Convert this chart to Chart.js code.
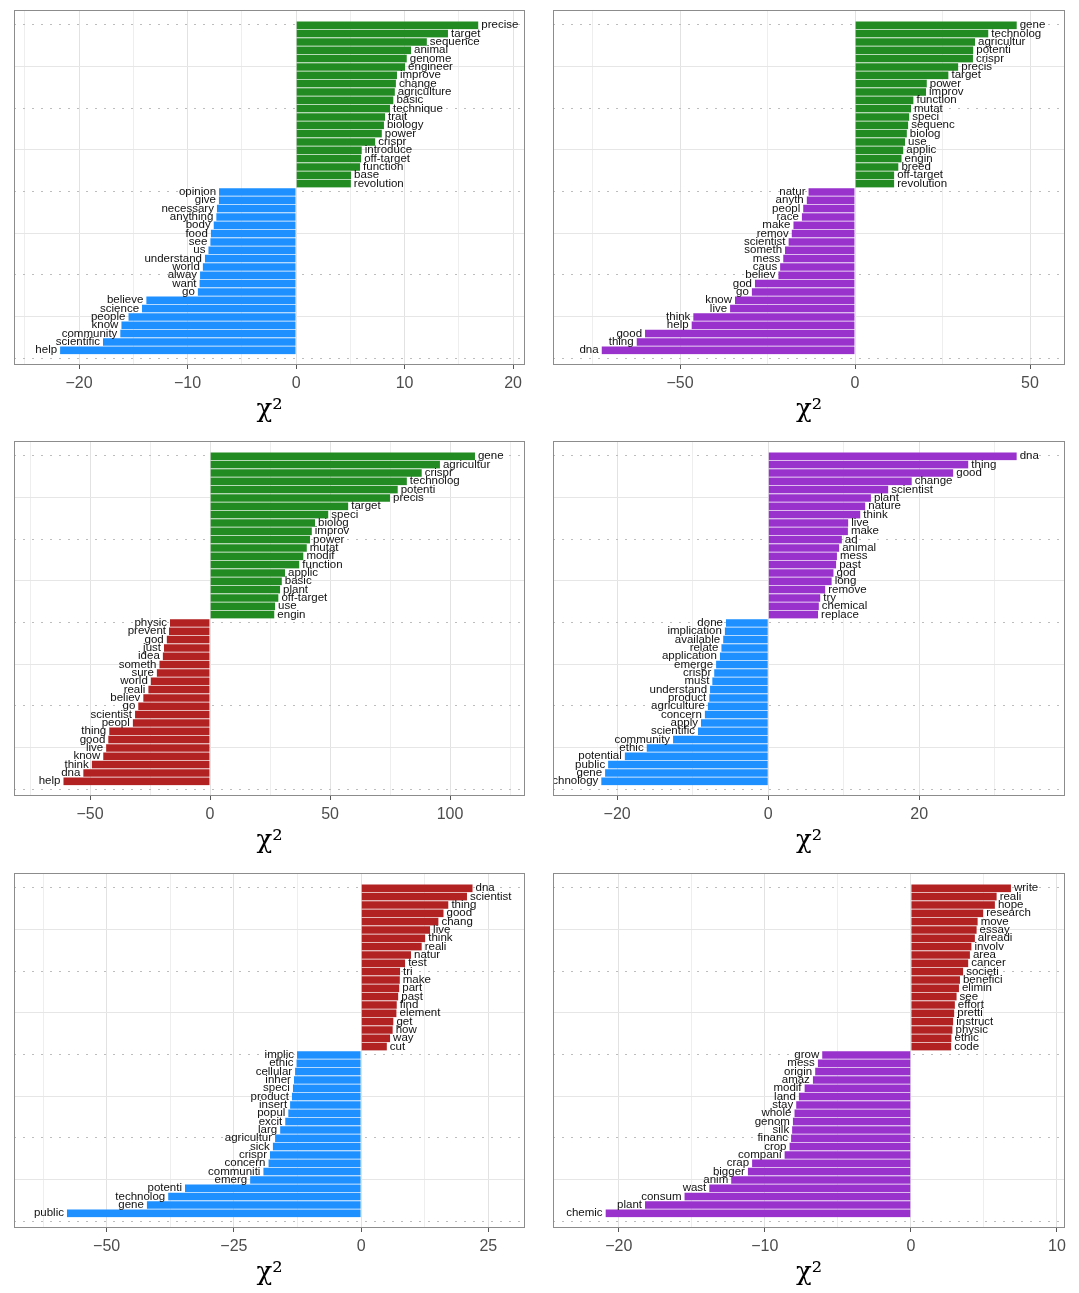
<!DOCTYPE html>
<html>
<head>
<meta charset="utf-8">
<title>Chi-square keyness panels</title>
<script src="https://cdn.jsdelivr.net/npm/chart.js@4.4.1/dist/chart.umd.min.js"></script>
<style>
  html, body { margin: 0; padding: 0; background: #fff; }
  body { width: 1079px; height: 1293px; position: relative; overflow: hidden; }
  .panel { position: absolute; height: 431px; }
</style>
</head>
<body>
<div class="panel" style="left:0;top:0;width:539px"><canvas id="c1"></canvas></div>
<div class="panel" style="left:539px;top:0;width:540px"><canvas id="c2"></canvas></div>
<div class="panel" style="left:0;top:431px;width:539px"><canvas id="c3"></canvas></div>
<div class="panel" style="left:539px;top:431px;width:540px"><canvas id="c4"></canvas></div>
<div class="panel" style="left:0;top:863px;width:539px"><canvas id="c5"></canvas></div>
<div class="panel" style="left:539px;top:863px;width:540px"><canvas id="c6"></canvas></div>
<script>
// terms top -> bottom (20 positive, then 20 negative) and their chi2 values
const p1Words = ["precise", "target", "sequence", "animal", "genome", "engineer", "improve", "change", "agriculture", "basic",
    "technique", "trait", "biology", "power", "crispr", "introduce", "off-target", "function", "base", "revolution",
    "opinion", "give", "necessary", "anything", "body", "food", "see", "us", "understand", "world",
    "alway", "want", "go", "believe", "science", "people", "know", "community", "scientific", "help"];
const p1Chi2 = [16.8, 14.0, 12.05, 10.6, 10.2, 10.05, 9.3, 9.2, 9.1, 8.97,
    8.66, 8.2, 8.1, 7.9, 7.3, 6.05, 6.0, 5.9, 5.07, 5.05,
    -7.1, -7.12, -7.3, -7.35, -7.6, -7.86, -7.9, -8.08, -8.4, -8.6,
    -8.85, -8.9, -9.06, -13.8, -14.2, -15.45, -16.1, -16.2, -17.8, -21.75];
const p1Range = [-26.0, 21.1];
const p1Major = 10;

const p2Words = ["gene", "technolog", "agricultur", "potenti", "crispr", "precis", "target", "power", "improv", "function",
    "mutat", "speci", "sequenc", "biolog", "use", "applic", "engin", "breed", "off-target", "revolution",
    "natur", "anyth", "peopl", "race", "make", "remov", "scientist", "someth", "mess", "caus",
    "believ", "god", "go", "know", "live", "think", "help", "good", "thing", "dna"];
const p2Chi2 = [46.2, 38.1, 34.3, 33.8, 33.7, 29.5, 26.7, 20.5, 20.3, 16.7,
    16.0, 15.5, 15.2, 14.8, 14.3, 13.8, 13.3, 12.4, 11.2, 11.2,
    -13.3, -13.8, -14.8, -15.2, -17.6, -18.1, -19.0, -20.0, -20.5, -21.4,
    -21.9, -28.6, -29.5, -34.3, -35.7, -46.2, -46.7, -60.0, -62.4, -72.4];
const p2Range = [-86.3, 60.0];
const p2Major = 50;

const p3Words = ["gene", "agricultur", "crispr", "technolog", "potenti", "precis", "target", "speci", "biolog", "improv",
    "power", "mutat", "modif", "function", "applic", "basic", "plant", "off-target", "use", "engin",
    "physic", "prevent", "god", "just", "idea", "someth", "sure", "world", "reali", "believ",
    "go", "scientist", "peopl", "thing", "good", "live", "know", "think", "dna", "help"];
const p3Chi2 = [110.4, 95.8, 88.2, 82.0, 78.2, 75.0, 57.6, 49.3, 43.75, 42.4,
    41.7, 40.3, 38.9, 37.2, 31.25, 29.9, 29.2, 28.5, 27.1, 26.8,
    -16.7, -17.1, -18.05, -19.2, -19.7, -21.1, -22.2, -24.7, -25.7, -27.8,
    -29.9, -31.25, -32.2, -42.0, -42.4, -43.3, -44.5, -49.3, -52.8, -61.1];
const p3Range = [-81.7, 131.25];
const p3Major = 50;

const p4Words = ["dna", "thing", "good", "change", "scientist", "plant", "nature", "think", "live", "make",
    "ad", "animal", "mess", "past", "god", "long", "remove", "try", "chemical", "replace",
    "done", "implication", "available", "relate", "application", "emerge", "crispr", "must", "understand", "product",
    "agriculture", "concern", "apply", "scientific", "community", "ethic", "potential", "public", "gene", "technology"];
const p4Chi2 = [32.9, 26.5, 24.5, 19.0, 15.9, 13.6, 12.85, 12.2, 10.6, 10.55,
    9.75, 9.4, 9.1, 9.0, 8.65, 8.4, 7.55, 6.9, 6.7, 6.6,
    -5.6, -5.75, -5.96, -6.2, -6.4, -6.9, -7.15, -7.4, -7.7, -7.8,
    -8.0, -8.4, -8.9, -9.3, -12.6, -16.1, -19.0, -21.2, -21.6, -22.1];
const p4Range = [-28.5, 39.3];
const p4Major = 20;

const p5Words = ["dna", "scientist", "thing", "good", "chang", "live", "think", "reali", "natur", "test",
    "tri", "make", "part", "past", "find", "element", "get", "how", "way", "cut",
    "implic", "ethic", "cellular", "inher", "speci", "product", "insert", "popul", "excit", "larg",
    "agricultur", "sick", "crispr", "concern", "communiti", "emerg", "potenti", "technolog", "gene", "public"];
const p5Chi2 = [21.9, 20.8, 17.15, 16.2, 15.2, 13.55, 12.6, 11.9, 9.8, 8.65,
    7.66, 7.6, 7.5, 7.3, 7.0, 6.95, 6.35, 6.2, 5.7, 5.05,
    -12.6, -12.7, -12.97, -13.2, -13.4, -13.6, -13.95, -14.3, -14.9, -15.9,
    -16.9, -17.35, -17.9, -18.2, -19.2, -21.8, -34.6, -37.9, -42.1, -57.8];
const p5Range = [-68.2, 32.2];
const p5Major = 25;

const p6Words = ["write", "reali", "hope", "research", "move", "essay", "alreadi", "involv", "area", "cancer",
    "societi", "benefici", "elimin", "see", "effort", "pretti", "instruct", "physic", "ethic", "code",
    "grow", "mess", "origin", "amaz", "modif", "land", "stay", "whole", "genom", "silk",
    "financ", "crop", "compani", "crap", "bigger", "anim", "wast", "consum", "plant", "chemic"];
const p6Chi2 = [6.85, 5.87, 5.75, 4.95, 4.57, 4.5, 4.38, 4.15, 4.04, 3.93,
    3.58, 3.36, 3.29, 3.13, 3.01, 2.97, 2.9, 2.85, 2.78, 2.76,
    -6.07, -6.37, -6.55, -6.71, -7.28, -7.67, -7.85, -7.97, -8.08, -8.13,
    -8.2, -8.31, -8.65, -10.87, -11.16, -12.3, -13.8, -15.5, -18.2, -20.9];
const p6Range = [-24.5, 10.55];
const p6Major = 10;

const GREEN = "#228b22", BLUE = "#1e90ff", PURPLE = "#9932cc", RED = "#b22222";

Chart.defaults.font.family = '"Liberation Sans", Arial, sans-serif';

const panels = [
    { id: "c1", words: p1Words, values: p1Chi2, range: p1Range, major: p1Major, pos: GREEN, neg: BLUE },
    { id: "c2", words: p2Words, values: p2Chi2, range: p2Range, major: p2Major, pos: GREEN, neg: PURPLE },
    { id: "c3", words: p3Words, values: p3Chi2, range: p3Range, major: p3Major, pos: GREEN, neg: RED },
    { id: "c4", words: p4Words, values: p4Chi2, range: p4Range, major: p4Major, pos: PURPLE, neg: BLUE },
    { id: "c5", words: p5Words, values: p5Chi2, range: p5Range, major: p5Major, pos: RED, neg: BLUE },
    { id: "c6", words: p6Words, values: p6Chi2, range: p6Range, major: p6Major, pos: RED, neg: PURPLE },
];

function isMult(v, step) {
    return Math.abs(v / step - Math.round(v / step)) < 1e-6;
}

function fmt(v) {
    return v < 0 ? "\u2212" + Math.abs(v) : String(v);
}

// term text at the end of each bar, clipped to the panel
function wordLabels(words) {
    return {
        id: "wordLabels",
        afterDatasetsDraw(chart) {
            const { ctx, chartArea } = chart;
            const meta = chart.getDatasetMeta(0);
            const data = chart.data.datasets[0].data;
            ctx.save();
            ctx.beginPath();
            ctx.rect(chartArea.left, chartArea.top, chartArea.width, chartArea.height);
            ctx.clip();
            ctx.font = '11.5px "Liberation Sans", Arial, sans-serif';
            ctx.fillStyle = "#111";
            ctx.textBaseline = "middle";
            meta.data.forEach((bar, i) => {
                const pos = data[i].x >= 0;
                ctx.textAlign = pos ? "left" : "right";
                ctx.fillText(words[i], bar.x + (pos ? 3 : -3), bar.y);
            });
            ctx.restore();
        },
    };
}

const frame = {
    id: "frame",
    afterDraw(chart) {
        const { ctx, chartArea: a } = chart;
        ctx.save();
        ctx.strokeStyle = "#8c8c8c";
        ctx.lineWidth = 1;
        ctx.strokeRect(a.left + 0.5, a.top + 0.5, a.width - 1, a.height - 1);
        ctx.restore();
    },
};

panels.forEach((p) => {
    const n = p.values.length;
    new Chart(document.getElementById(p.id), {
        type: "bar",
        data: {
            datasets: [{
                data: p.values.map((v, i) => ({ x: v, y: n - i })),
                backgroundColor: p.values.map((v) => (v >= 0 ? p.pos : p.neg)),
                borderColor: "rgba(255,255,255,0.16)",
                borderWidth: { top: 1, right: 0, bottom: 0, left: 0 },
                borderSkipped: false,
                barPercentage: 1,
                categoryPercentage: 1,
            }],
        },
        options: {
            indexAxis: "y",
            responsive: true,
            maintainAspectRatio: false,
            animation: false,
            layout: { padding: { left: 14, right: 14, top: 10, bottom: 0 } },
            plugins: { legend: { display: false }, tooltip: { enabled: false } },
            scales: {
                x: {
                    type: "linear",
                    min: p.range[0],
                    max: p.range[1],
                    offset: false,
                    ticks: {
                        stepSize: p.major / 2,
                        includeBounds: false,
                        autoSkip: false,
                        maxRotation: 0,
                        padding: 5,
                        color: "#4d4d4d",
                        font: { size: 16 },
                        callback: (v) => (isMult(v, p.major) ? fmt(v) : ""),
                    },
                    grid: {
                        offset: false,
                        lineWidth: 1,
                        tickLength: 4,
                        color: (c) => (c.tick && isMult(c.tick.value, p.major) ? "#e2e2e2" : "#eeeeee"),
                        tickColor: (c) => (c.tick && isMult(c.tick.value, p.major) ? "#555555" : "rgba(0,0,0,0)"),
                    },
                    border: { display: false },
                    title: {
                        display: true,
                        text: "χ²",
                        color: "#000",
                        font: { family: '"DejaVu Serif", "Liberation Serif", serif', size: 26 },
                        padding: { top: 0, bottom: 5 },
                    },
                    afterFit: (s) => { s.height = 66; },
                },
                y: {
                    type: "linear",
                    min: -0.8,
                    max: 41.8,
                    offset: false,
                    ticks: { display: false, stepSize: 5, includeBounds: false },
                    grid: {
                        offset: false,
                        drawTicks: false,
                        color: (c) => (c.tick && isMult(c.tick.value, 10) ? "#bdbdbd" : "#e6e6e6"),
                    },
                    border: {
                        display: false,
                        dash: (c) => (c.tick && isMult(c.tick.value, 10) ? [2, 7] : []),
                    },
                    afterFit: (s) => { s.width = 0; },
                },
            },
        },
        plugins: [wordLabels(p.words), frame],
    });
});
</script>
</body>
</html>
